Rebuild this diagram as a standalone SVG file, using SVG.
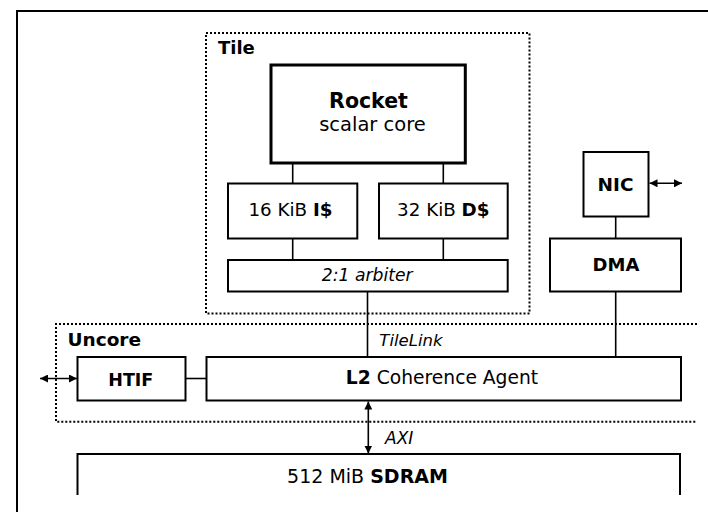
<svg xmlns="http://www.w3.org/2000/svg" width="708" height="512" viewBox="0 0 708 512">
  <defs>
    <marker id="arrow" viewBox="0 0 8 8" refX="8" refY="4" markerWidth="8" markerHeight="8" markerUnits="userSpaceOnUse" orient="auto-start-reverse">
      <path d="M0,0 L8,4 L0,8 Z" fill="#000"/>
    </marker>
    <style>
      text { font-family: "DejaVu Sans", Verdana, sans-serif; fill: #000; }
      .box { fill: #fff; stroke: #000; stroke-width: 2; }
      .core { fill: #fff; stroke: #000; stroke-width: 3; }
      .region { fill: none; stroke: #000; stroke-width: 2; stroke-dasharray: 2 2; }
      .wire { fill: none; stroke: #000; stroke-width: 1.6; }
      .bi { marker-start: url(#arrow); marker-end: url(#arrow); }
      .b { font-weight: bold; }
      .i { font-style: italic; }
      .c { text-anchor: middle; }
    </style>
  </defs>

  <!-- board outline -->
  <path d="M17,512 V11 H710" fill="none" stroke="#000" stroke-width="2"/>

  <!-- region outlines -->
  <g id="tile-region">
    <rect class="region" x="206" y="33" width="323.5" height="280.5"/>
    <text class="b" x="218" y="54" font-size="18">Tile</text>
  </g>
  <g id="uncore-region">
    <path class="region" d="M697,324 H56 V421.7 H697"/>
    <text class="b" x="67.5" y="346" font-size="18.5">Uncore</text>
  </g>

  <!-- connectors -->
  <g id="connectors">
    <line class="wire" x1="292.7" y1="163" x2="292.7" y2="183.5"/>
    <line class="wire" x1="443.3" y1="163" x2="443.3" y2="183.5"/>
    <line class="wire" x1="292.7" y1="238.5" x2="292.7" y2="260"/>
    <line class="wire" x1="443.3" y1="238.5" x2="443.3" y2="260"/>
    <line class="wire" x1="367.5" y1="291.5" x2="367.5" y2="357"/>
    <line class="wire" x1="615.7" y1="216.5" x2="615.7" y2="238.5"/>
    <line class="wire" x1="615.7" y1="291.5" x2="615.7" y2="357"/>
    <line class="wire" x1="185.5" y1="378.5" x2="206.5" y2="378.5"/>
    <line class="wire bi" x1="40" y1="378.5" x2="77" y2="378.5"/>
    <line class="wire bi" x1="649.5" y1="183.3" x2="682" y2="183.3"/>
    <line class="wire bi" x1="368.3" y1="401.5" x2="368.3" y2="453.5"/>
    <text class="i" x="379.3" y="346" font-size="16.5">TileLink</text>
    <text class="i" x="385" y="444" font-size="17">AXI</text>
  </g>

  <!-- nodes -->
  <g id="rocket">
    <rect class="core" x="271" y="65" width="194.3" height="98"/>
    <text class="b c" x="368.5" y="107.7" font-size="20.5">Rocket</text>
    <text class="c" x="372.5" y="131" font-size="19.5">scalar core</text>
  </g>
  <g id="icache">
    <rect class="box" x="228" y="183.5" width="129.3" height="55"/>
    <text class="c" x="290.5" y="215.7" font-size="18.3">16 KiB <tspan class="b">I$</tspan></text>
  </g>
  <g id="dcache">
    <rect class="box" x="379" y="183.5" width="128.7" height="55"/>
    <text class="c" x="443.3" y="215.7" font-size="18.3">32 KiB <tspan class="b">D$</tspan></text>
  </g>
  <g id="arbiter">
    <rect class="box" x="228" y="260" width="279.7" height="31.5"/>
    <text class="i c" x="367.2" y="281" font-size="17.2">2:1 arbiter</text>
  </g>
  <g id="nic">
    <rect class="box" x="583.5" y="152" width="65" height="64.5"/>
    <text class="b c" x="615.5" y="190.7" font-size="18.5">NIC</text>
  </g>
  <g id="dma">
    <rect class="box" x="550" y="238.5" width="131" height="53"/>
    <text class="b c" x="616" y="270.7" font-size="18">DMA</text>
  </g>
  <g id="htif">
    <rect class="box" x="77.5" y="357" width="108" height="43.5"/>
    <text class="b c" x="130.8" y="385.5" font-size="17.5">HTIF</text>
  </g>
  <g id="l2">
    <rect class="box" x="206.5" y="357" width="474.5" height="43.5"/>
    <text class="c" x="442" y="384" font-size="18.7"><tspan class="b">L2</tspan> Coherence Agent</text>
  </g>
  <g id="sdram">
    <path class="box" fill="none" d="M77.5,495 V454 H680 V495" style="fill:none"/>
    <text class="c" x="367.5" y="482.5" font-size="19">512 MiB <tspan class="b">SDRAM</tspan></text>
  </g>
</svg>
